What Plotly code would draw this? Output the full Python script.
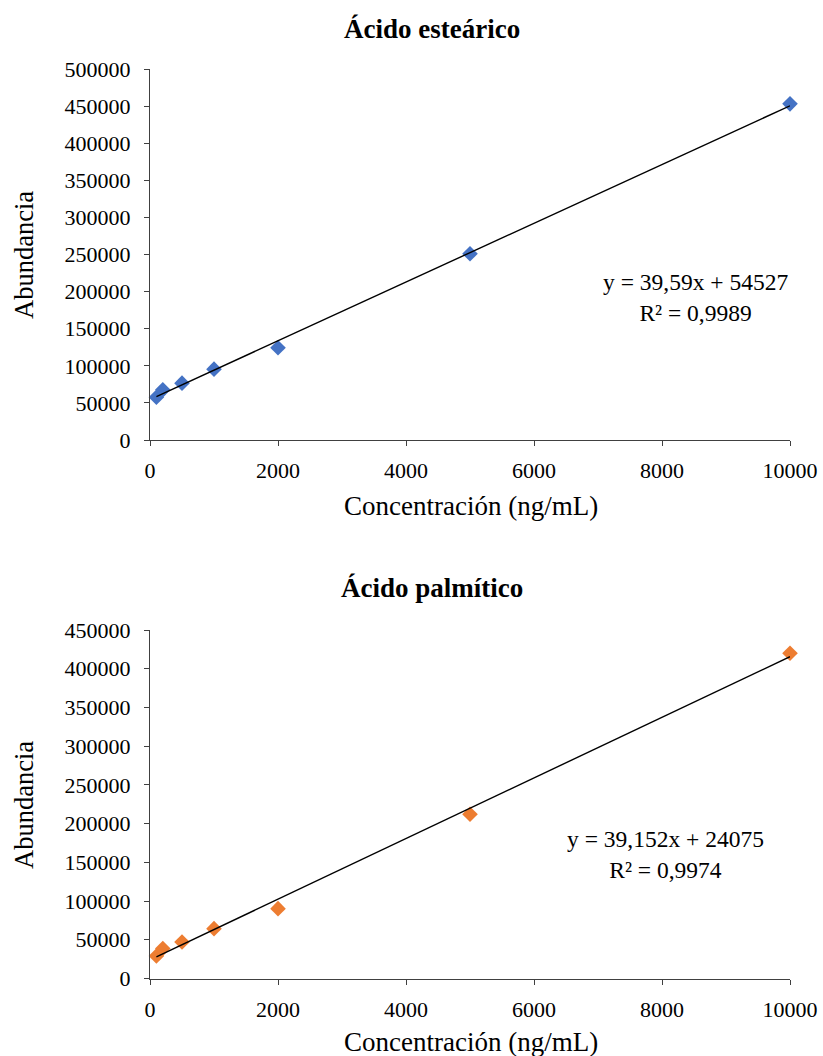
import plotly.graph_objects as go

conc = [100, 200, 500, 1000, 2000, 5000, 10000]
estearico = [57700, 67600, 76600, 95500, 124300, 251000, 453000]
palmitico = [29100, 38700, 47200, 64400, 90200, 212000, 420000]

fit_est = (39.59, 54527)
fit_pal = (39.152, 24075)

x_ticks = [0, 2000, 4000, 6000, 8000, 10000]

FONT = "Liberation Serif, Times New Roman, serif"
AXC = "#404040"

fig = go.Figure()

def add_series(xs, ys, fit, color, xa, ya):
    fig.add_trace(go.Scatter(x=xs, y=ys, mode="markers",
                             marker=dict(symbol="diamond", size=12, color=color),
                             xaxis=xa, yaxis=ya, showlegend=False, cliponaxis=False))
    lx = [min(xs), max(xs)]
    ly = [fit[0] * v + fit[1] for v in lx]
    fig.add_trace(go.Scatter(x=lx, y=ly, mode="lines",
                             line=dict(color="black", width=1.4),
                             xaxis=xa, yaxis=ya, showlegend=False))

add_series(conc, estearico, fit_est, "#4472C4", "x", "y")
add_series(conc, palmitico, fit_pal, "#ED7D31", "x2", "y2")

W, H = 823, 1056
xdom = [150 / W, 790 / W]

axis_common = dict(showgrid=False, zeroline=False, showline=True, linecolor=AXC,
                   linewidth=1, ticks="outside", tickcolor=AXC, ticklen=5, tickwidth=1,
                   tickfont=dict(family=FONT, size=22, color="black"),
                   tickformat="d", automargin=False)

fig.update_layout(
    template="none",
    width=W, height=H, margin=dict(l=0, r=0, t=0, b=0, pad=0),
    font=dict(family=FONT, color="black"),
    paper_bgcolor="white", plot_bgcolor="white",
    xaxis=dict(domain=xdom, anchor="y", range=[0, 10000], tickvals=x_ticks,
               ticklabelstandoff=6, **axis_common),
    yaxis=dict(domain=[1 - 440 / H, 1 - 69 / H], anchor="x", range=[0, 500000], dtick=50000,
               ticklabelstandoff=9, **axis_common),
    xaxis2=dict(domain=xdom, anchor="y2", range=[0, 10000], tickvals=x_ticks,
                ticklabelstandoff=6, **axis_common),
    yaxis2=dict(domain=[1 - 978.5 / H, 1 - 630 / H], anchor="x2", range=[0, 450000], dtick=50000,
                ticklabelstandoff=9, **axis_common),
)

def ann(text, x, y, size, bold=False, angle=0):
    if bold:
        text = "<b>" + text + "</b>"
    fig.add_annotation(text=text, x=x / W, y=1 - y / H, xref="paper", yref="paper",
                       showarrow=False, textangle=angle,
                       font=dict(family=FONT, size=size, color="black"),
                       xanchor="center", yanchor="middle")

ann("Ácido esteárico", 432, 29, 27, bold=True)
ann("Ácido palmítico", 432, 588, 27, bold=True)
ann("Abundancia", 24, 255, 26.5, angle=-90)
ann("Abundancia", 24, 805, 26.5, angle=-90)
ann("Concentración (ng/mL)", 471, 506, 27)
ann("Concentración (ng/mL)", 471, 1042, 27)
ann("y = 39,59x + 54527<br>R² = 0,9989", 695, 297, 23.5)
ann("y = 39,152x + 24075<br>R² = 0,9974", 665, 854, 23.5)

fig.write_html("out.html")
